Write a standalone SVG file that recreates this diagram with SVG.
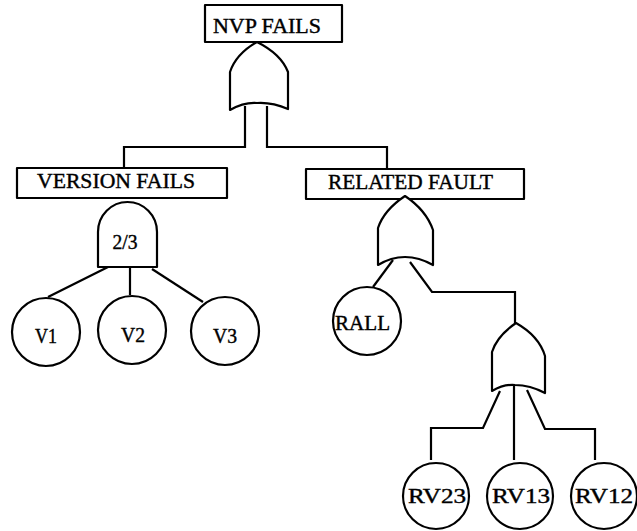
<svg xmlns="http://www.w3.org/2000/svg" width="637" height="531" viewBox="0 0 637 531">
<style>
.s{fill:#fff;stroke:#000;stroke-width:2.2;stroke-linejoin:round}
.l{fill:none;stroke:#000;stroke-width:2.2;stroke-linejoin:miter}
.t{font-family:"Liberation Serif","DejaVu Serif","Times New Roman",serif;font-size:20px;fill:#000;stroke:#000;stroke-width:0.4}
</style>
<rect width="637" height="531" fill="#fff"/>
<g id="connectors">
<path class="l" d="M245,106 V147 H124 V168"/>
<path class="l" d="M267,106 V147 H387 V169"/>
<path class="l" d="M108,267 L48,297"/>
<path class="l" d="M130,267 V295"/>
<path class="l" d="M152,269 L203,302"/>
<path class="l" d="M393,260 L373,287"/>
<path class="l" d="M410,262 L432,292 H515 V323"/>
<path class="l" d="M514,386 V460"/>
<path class="l" d="M500,391 L483,428 H431 V460"/>
<path class="l" d="M527,390 L545,429 H595 V460"/>
</g>
<g id="nvp_fails">
<rect class="s" x="205" y="5" width="137" height="37"/>
<text class="t" x="267" y="33" text-anchor="middle" textLength="108" lengthAdjust="spacingAndGlyphs">NVP FAILS</text>
</g>
<g id="or_top">
<path class="s" d="M257,42 Q236,54 230,72 L230,110 Q244,102 257,103 Q272,102 288,109 L288,72 Q281,54 257,42 Z"/>
</g>
<g id="version_fails">
<rect class="s" x="17" y="168" width="210" height="30"/>
<text class="t" x="37" y="188" textLength="158" lengthAdjust="spacingAndGlyphs">VERSION  FAILS</text>
</g>
<g id="vote_2of3">
<path class="s" d="M98,267 L98,232 A29.5,30 0 0 1 157,232 L157,267 Z"/>
<text class="t" x="125" y="249" text-anchor="middle" textLength="25" lengthAdjust="spacingAndGlyphs">2/3</text>
</g>
<g id="v1">
<circle class="s" cx="46" cy="332" r="34"/>
<text class="t" x="46" y="343" text-anchor="middle" textLength="22" lengthAdjust="spacingAndGlyphs">V1</text>
</g>
<g id="v2">
<circle class="s" cx="132" cy="330" r="34"/>
<text class="t" x="133" y="342" text-anchor="middle" textLength="24" lengthAdjust="spacingAndGlyphs">V2</text>
</g>
<g id="v3">
<circle class="s" cx="225" cy="331" r="34"/>
<text class="t" x="225" y="343" text-anchor="middle" textLength="24" lengthAdjust="spacingAndGlyphs">V3</text>
</g>
<g id="related_fault">
<rect class="s" x="306" y="169" width="218" height="30"/>
<text class="t" x="328" y="189" textLength="165" lengthAdjust="spacingAndGlyphs">RELATED FAULT</text>
</g>
<g id="or_related">
<path class="s" d="M405,196 Q384,210 378,228 L378,265 Q391,257 405,257 Q419,257 433,265 L433,230 Q426,210 405,196 Z"/>
</g>
<g id="rall">
<circle class="s" cx="367" cy="321" r="34"/>
<text class="t" x="335" y="330" textLength="55" lengthAdjust="spacingAndGlyphs">RALL</text>
</g>
<g id="or_rv">
<path class="s" d="M516,323 Q497,336 492,352 L492,391 Q504,384 515,385 Q530,385 545,393 L545,356 Q539,336 516,323 Z"/>
</g>
<g id="rv23">
<circle class="s" cx="436" cy="496" r="33"/>
<text class="t" x="437" y="503" text-anchor="middle" textLength="58" lengthAdjust="spacingAndGlyphs">RV23</text>
</g>
<g id="rv13">
<circle class="s" cx="520" cy="496" r="33"/>
<text class="t" x="521" y="503" text-anchor="middle" textLength="58" lengthAdjust="spacingAndGlyphs">RV13</text>
</g>
<g id="rv12">
<circle class="s" cx="604" cy="496" r="33"/>
<text class="t" x="604" y="503" text-anchor="middle" textLength="58" lengthAdjust="spacingAndGlyphs">RV12</text>
</g>
</svg>
